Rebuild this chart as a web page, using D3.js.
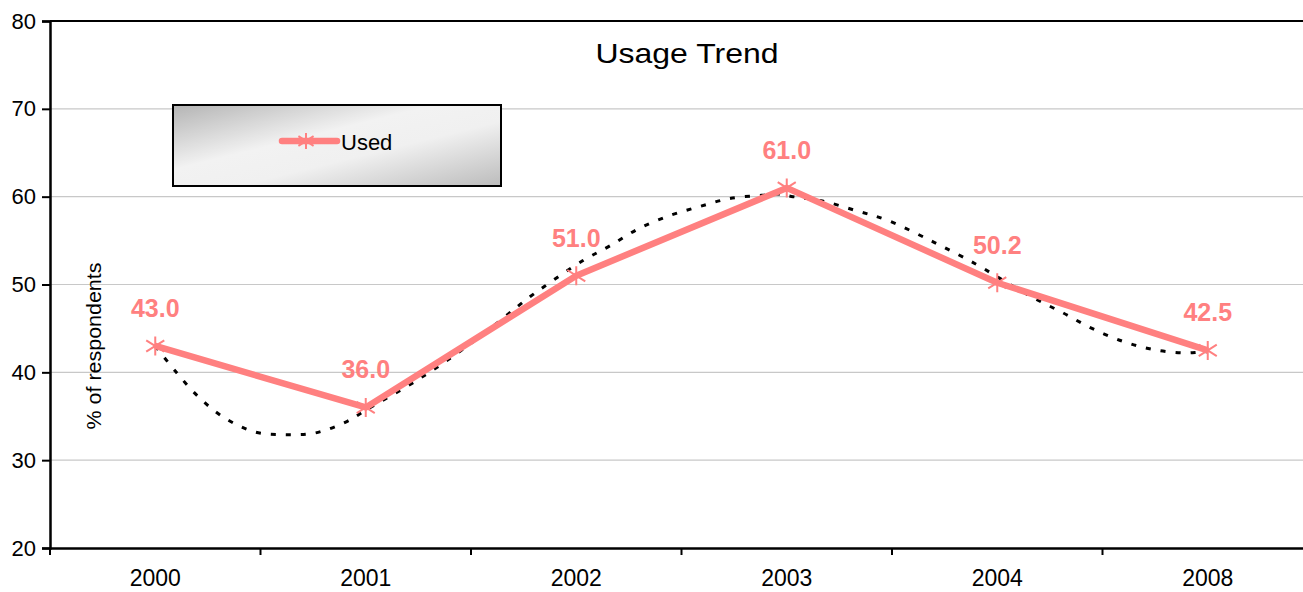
<!DOCTYPE html>
<html>
<head>
<meta charset="utf-8">
<script src="https://cdn.jsdelivr.net/npm/d3@7"></script>
<style>
  html, body { margin: 0; padding: 0; background: #fff; }
  svg { display: block; font-family: "Liberation Sans", Arial, sans-serif; }
</style>
</head>
<body>
<svg id="chart" width="1303" height="592"></svg>
<script>
// ---- data ----
const categories = ["2000", "2001", "2002", "2003", "2004", "2008"];
const usedValues = [43.0, 36.0, 51.0, 61.0, 50.2, 42.5];
const usedLabels = ["43.0", "36.0", "51.0", "61.0", "50.2", "42.5"];
const yTicks = [20, 30, 40, 50, 60, 70, 80];
// trend line: position (in category steps) and value
const trendPos = [0, 0.1, 0.21, 0.33, 0.475, 0.62, 0.76, 0.91, 1.0, 1.25, 1.5, 1.78, 1.85, 2.03, 2.16, 2.3, 2.45, 2.59, 2.73, 2.88, 2.96, 3.03, 3.17, 3.33, 3.48, 3.7, 3.9, 4.04, 4.17, 4.31, 4.45, 4.6, 4.74, 4.89, 4.96, 5.0];
const trendVal = [43.0, 40.0, 37.1, 34.8, 33.2, 32.9, 33.1, 34.4, 35.7, 39.2, 43.3, 48.6, 49.8, 52.7, 54.4, 56.4, 57.9, 58.9, 59.8, 60.15, 60.3, 60.0, 59.5, 58.4, 57.3, 54.8, 52.3, 50.3, 48.5, 46.8, 45.0, 43.5, 42.6, 42.2, 42.3, 42.35];

(function () {
const svg = d3.select("#chart");
const pLeft = 50, pRight = 1313, pTop = 21, pBottom = 548;
const pink = "#FF8080";

const x = d3.scaleBand().domain(categories).range([pLeft, pRight]).padding(0);
const bw = x.bandwidth();
const cx = c => x(c) + bw / 2;
const xi = d3.scaleLinear().domain([0, categories.length - 1]).range([cx(categories[0]), cx(categories[categories.length - 1])]);
const y = d3.scaleLinear().domain([20, 80]).range([pBottom, pTop]);

// gridlines
svg.append("g").selectAll("line").data(yTicks.filter(t => t > 20 && t < 80)).join("line")
  .attr("x1", pLeft).attr("x2", pRight).attr("y1", d => y(d)).attr("y2", d => y(d))
  .attr("stroke", "#c8c8c8").attr("stroke-width", 1.2);

// top border
svg.append("line").attr("x1", pLeft).attr("x2", pRight).attr("y1", y(80)).attr("y2", y(80))
  .attr("stroke", "#000").attr("stroke-width", 2);

// y axis
const yAxis = svg.append("g").attr("transform", `translate(${pLeft},0)`)
  .call(d3.axisLeft(y).tickValues(yTicks).tickSize(8).tickPadding(6).tickFormat(d3.format("d")));
yAxis.select(".domain").attr("stroke", "#000").attr("stroke-width", 2.5);
yAxis.selectAll(".tick line").attr("stroke", "#000").attr("stroke-width", 2);
yAxis.selectAll("text").attr("font-size", 22).attr("fill", "#000")
  .attr("font-family", "Liberation Sans, Arial, sans-serif");

// x axis
const xAxis = svg.append("g").attr("transform", `translate(0,${pBottom})`)
  .call(d3.axisBottom(x).tickSize(0).tickPadding(22));
xAxis.select(".domain").attr("stroke", "#000").attr("stroke-width", 2.5);
xAxis.selectAll("text").attr("font-size", 23).attr("fill", "#000")
  .attr("font-family", "Liberation Sans, Arial, sans-serif");
svg.append("g").selectAll("line").data(categories).join("line")
  .attr("x1", d => x(d)).attr("x2", d => x(d))
  .attr("y1", pBottom).attr("y2", pBottom + 7)
  .attr("stroke", "#000").attr("stroke-width", 2);

// title
svg.append("text").attr("x", 687).attr("y", 63).attr("text-anchor", "middle")
  .attr("font-size", 28).attr("textLength", 183).attr("lengthAdjust", "spacingAndGlyphs")
  .text("Usage Trend");

// y label
svg.append("text").attr("transform", "translate(101,346) rotate(-90)")
  .attr("text-anchor", "middle").attr("font-size", 20)
  .attr("textLength", 167).attr("lengthAdjust", "spacingAndGlyphs")
  .text("% of respondents");

// trend line (dotted)
const trend = trendPos.map((p, i) => [xi(p), y(trendVal[i])]);
svg.append("path").datum(trend)
  .attr("d", d3.line().curve(d3.curveCatmullRom.alpha(0.5)))
  .attr("fill", "none").attr("stroke", "#000").attr("stroke-width", 3)
  .attr("stroke-dasharray", "5,10");

// main line
const pts = categories.map((c, i) => [cx(c), y(usedValues[i])]);
svg.append("path").datum(pts)
  .attr("d", d3.line())
  .attr("fill", "none").attr("stroke", pink).attr("stroke-width", 6.5)
  .attr("stroke-linejoin", "round");

// asterisk markers
const starSize = 9.5;
function starPath(px, py, s) {
  const dx = s * 0.95, dy = s * 0.6;
  return `M${px},${py - s}L${px},${py + s}` +
         `M${px - dx},${py - dy}L${px + dx},${py + dy}` +
         `M${px - dx},${py + dy}L${px + dx},${py - dy}`;
}
svg.append("g").selectAll("path").data(pts).join("path")
  .attr("d", d => starPath(d[0], d[1], starSize))
  .attr("stroke", pink).attr("stroke-width", 2).attr("fill", "none");

// data labels
svg.append("g").selectAll("text").data(pts).join("text")
  .attr("x", d => d[0]).attr("y", d => d[1] - 29)
  .attr("text-anchor", "middle").attr("font-size", 25).attr("font-weight", "bold")
  .attr("fill", pink)
  .text((d, i) => usedLabels[i]);

// legend
const defs = svg.append("defs");
const grad = defs.append("linearGradient").attr("id", "lg")
  .attr("x1", "0%").attr("y1", "0%").attr("x2", "100%").attr("y2", "100%");
grad.append("stop").attr("offset", "0%").attr("stop-color", "#b4b4b4");
grad.append("stop").attr("offset", "40%").attr("stop-color", "#f2f2f2");
grad.append("stop").attr("offset", "60%").attr("stop-color", "#f0f0f0");
grad.append("stop").attr("offset", "100%").attr("stop-color", "#bcbcbc");
svg.append("rect").attr("x", 173).attr("y", 105).attr("width", 328).attr("height", 81)
  .attr("fill", "url(#lg)").attr("stroke", "#000").attr("stroke-width", 2);
svg.append("line").attr("x1", 282).attr("x2", 337).attr("y1", 141).attr("y2", 141)
  .attr("stroke", pink).attr("stroke-width", 6.5).attr("stroke-linecap", "round");
svg.append("path").attr("d", starPath(306, 141, 8))
  .attr("stroke", pink).attr("stroke-width", 2).attr("fill", "none");
svg.append("text").attr("x", 341).attr("y", 150).attr("font-size", 22).text("Used");
})();
</script>
</body>
</html>
